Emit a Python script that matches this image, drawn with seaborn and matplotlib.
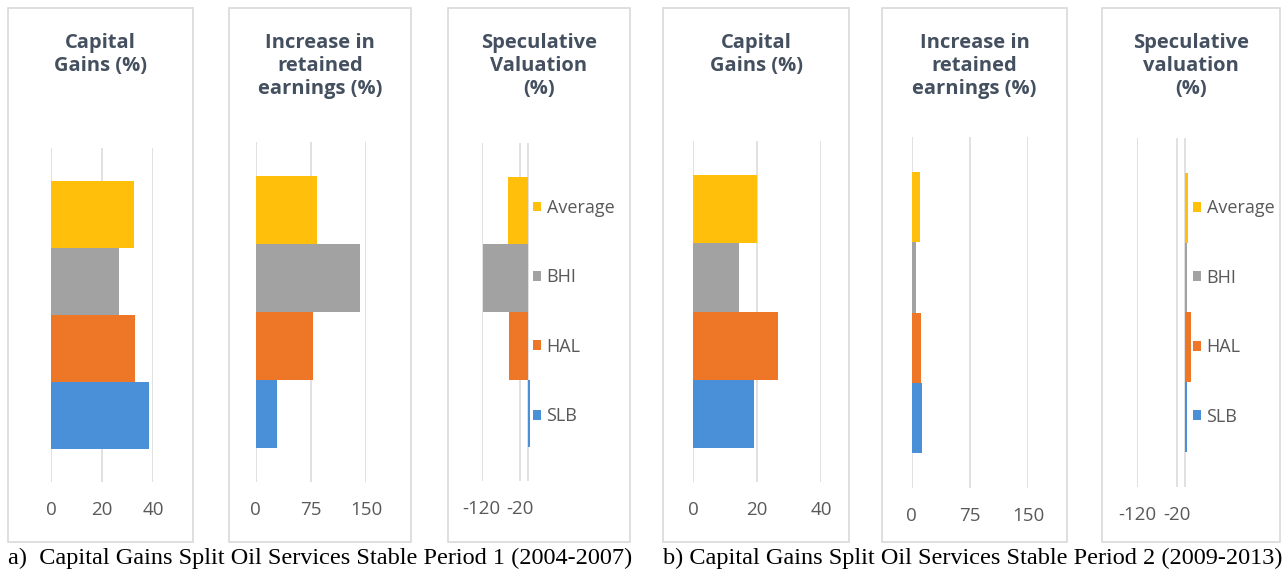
import matplotlib
matplotlib.use("Agg")
import matplotlib.pyplot as plt
from matplotlib.patches import Rectangle, Patch
import seaborn as sns
import pandas as pd

# Data (values in %)
companies = ["SLB", "HAL", "BHI", "Average"]
bar_order = ["Average", "BHI", "HAL", "SLB"]  # top to bottom, like the Excel chart

p1_capital_gains = [38.5, 32.8, 26.7, 32.7]
p1_retained_earnings = [29.5, 78.6, 142.0, 83.4]
p1_speculative = [6.0, -48.6, -116.0, -52.9]

p2_capital_gains = [19.0, 26.5, 14.4, 20.0]
p2_retained_earnings = [12.9, 12.4, 5.6, 10.5]
p2_speculative = [4.0, 14.0, 4.0, 7.3]

panel_titles = [
    "Capital\nGains (%)",
    "Increase in\nretained\nearnings (%)",
    "Speculative\nValuation\n(%)",
    "Capital\nGains (%)",
    "Increase in\nretained\nearnings (%)",
    "Speculative\nvaluation\n(%)",
]
captions = [
    "a)  Capital Gains Split Oil Services Stable Period 1 (2004-2007)",
    "b) Capital Gains Split Oil Services Stable Period 2 (2009-2013)",
]

colors = {"SLB": "#4A90D9", "HAL": "#EE7627", "BHI": "#A2A2A2", "Average": "#FFBF0A"}

W, H = 1286, 575
TITLE_COLOR = "#44505F"
TICK_COLOR = "#595959"
GRID_COLOR = "#D9D9D9"

sns.set_theme(style="white")
plt.rcParams["font.family"] = ["Open Sans", "DejaVu Sans"]
plt.rcParams["axes.unicode_minus"] = False

fig = plt.figure(figsize=(W / 100, H / 100), dpi=100)


def px_box(x0, y0, x1, y1):
    """pixel box (top-left origin) -> figure fraction rect"""
    return [x0 / W, 1 - y1 / H, (x1 - x0) / W, (y1 - y0) / H]


# (values, xlim, xticks, plot area px, frame px, has legend)
panels = [
    (p1_capital_gains, (0, 40), [0, 20, 40], (51, 148, 153, 482), (8, 8, 193, 542), False),
    (p1_retained_earnings, (0, 150), [0, 75, 150], (255.7, 142, 366, 482), (229, 8, 411, 542), False),
    (p1_speculative, (-120, 8), [-120, -20], (481.7, 143, 531, 481), (448, 8, 630, 542), True),
    (p2_capital_gains, (0, 40), [0, 20, 40], (693.3, 141, 821, 482), (663, 8, 849, 542), False),
    (p2_retained_earnings, (0, 150), [0, 75, 150], (911.7, 137, 1028.3, 488), (882, 8, 1067, 542), False),
    (p2_speculative, (-120, 15), [-120, -20], (1137, 138, 1191, 487), (1102, 8, 1280, 542), True),
]

for i, (values, xlim, xticks, area, frame, has_legend) in enumerate(panels):
    # chart frame
    fx0, fy0, fx1, fy1 = frame
    fig.add_artist(Rectangle((fx0 / W, 1 - fy1 / H), (fx1 - fx0) / W, (fy1 - fy0) / H,
                             transform=fig.transFigure, fill=False,
                             edgecolor=GRID_COLOR, linewidth=1.2))
    fig.text((fx0 + fx1) / 2 / W, 1 - 33 / H, panel_titles[i], ha="center", va="top",
             fontsize=14.5, fontweight="bold", color=TITLE_COLOR, linespacing=1.2)

    df = pd.DataFrame({"company": companies, "value": values})
    ax = fig.add_axes(px_box(*area))
    sns.barplot(data=df, x="value", y="company", hue="company", order=bar_order,
                palette=colors, saturation=1, width=1.0, linewidth=0,
                legend=False, ax=ax)
    ax.set_xlim(*xlim)
    ax.set_ylim(3.5 + 0.5, -0.5 - 0.5)
    ax.set_xticks(xticks)
    ax.set_yticks([])
    ax.set_xlabel("")
    ax.set_ylabel("")
    ax.xaxis.grid(True, color=GRID_COLOR, linewidth=1.1)
    ax.set_axisbelow(True)
    if xlim[0] < 0:
        ax.axvline(0, color=GRID_COLOR, linewidth=1.1, zorder=0)
    for s in ax.spines.values():
        s.set_visible(False)
    ax.tick_params(axis="x", length=0, pad=14, labelsize=13.5, labelcolor=TICK_COLOR)
    ax.patch.set_alpha(0)

    if has_legend:
        handles = [Patch(facecolor=colors[c], edgecolor="none", label=c) for c in bar_order]
        cy = (area[1] + area[3]) / 2
        ax.legend(handles=handles, loc="center left",
                  bbox_to_anchor=((area[2] + 2) / W, 1 - cy / H),
                  bbox_transform=fig.transFigure, frameon=False,
                  fontsize=13, labelcolor=TICK_COLOR, handlelength=0.45,
                  handleheight=0.45, handletextpad=0.3, labelspacing=2.85,
                  borderpad=0, borderaxespad=0)

fig.text(8 / W, 1 - 558 / H, captions[0], ha="left", va="center",
         fontsize=17.5, family="Liberation Serif", color="black")
fig.text(663 / W, 1 - 558 / H, captions[1], ha="left", va="center",
         fontsize=17.5, family="Liberation Serif", color="black")

fig.savefig("out.png", dpi=100)
